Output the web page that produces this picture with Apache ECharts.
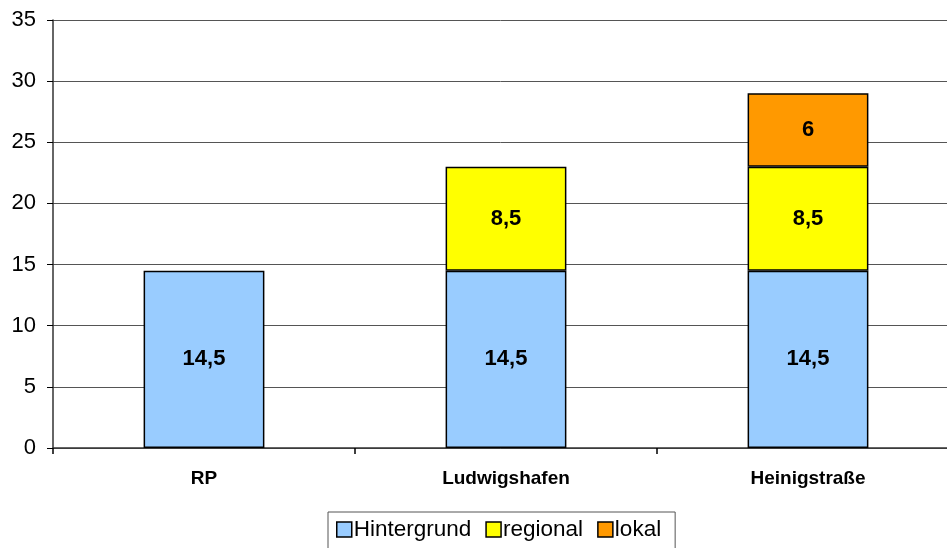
<!DOCTYPE html>
<html>
<head>
<meta charset="utf-8">
<script src="https://cdn.jsdelivr.net/npm/echarts@6/dist/echarts.min.js"></script>
<style>
	html, body { margin: 0; padding: 0; background: #fff; }
	#chart { width: 947px; height: 548px; }
</style>
</head>
<body>
<div id="chart"></div>
<script>
var categories = ['RP', 'Ludwigshafen', 'Heinigstraße'];
var hintergrund = [14.5, 14.5, 14.5];
var regional = [null, 8.5, 8.5];
var lokal = [null, null, 6];
var yTicks = [0, 5, 10, 15, 20, 25, 30, 35];

var myChart = echarts.init(document.getElementById('chart'));

// Beschriftung mit Komma als Dezimaltrenner
function labelFmt(p){
	return String(p.value).replace('.', ',');
}

function barSeries(name, data, color){
	return {
		name: name,
		type: 'bar',
		stack: 'total',
		data: data,
		barWidth: '40%',
		itemStyle: { color: color, borderColor: '#000', borderWidth: 1.5 },
		label: {
			show: true,
			position: 'inside',
			formatter: labelFmt,
			fontFamily: 'Liberation Sans, Arial, sans-serif',
			fontWeight: 'bold',
			fontSize: 22,
			color: '#000'
		},
		emphasis: { disabled: true },
		animation: false
	};
}

var option = {
	backgroundColor: '#fff',
	grid: { left: 53, top: 20, width: 906, height: 428, containLabel: false, outerBoundsMode: 'none' },
	legend: {
		top: 512,
		left: 328,
		itemWidth: 15,
		itemHeight: 15,
		itemGap: 14,
		padding: [6, 14, 8, 8],
		borderColor: '#555',
		borderWidth: 1,
		borderRadius: 0,
		textStyle: { fontFamily: 'Liberation Sans, Arial, sans-serif', fontSize: 22.5, color: '#000', padding: [0, 0, 0, -3] },
		icon: 'rect',
		itemStyle: { borderColor: '#000', borderWidth: 1.5 },
		data: ['Hintergrund', 'regional', 'lokal']
	},
	xAxis: {
		type: 'category',
		data: categories,
		axisLine: { lineStyle: { color: '#333', width: 1.5 } },
		axisTick: { show: true, length: 6, lineStyle: { color: '#000', width: 1.5 } },
		axisLabel: {
			margin: 21,
			fontFamily: 'Liberation Sans, Arial, sans-serif',
			fontWeight: 'bold',
			fontSize: 19,
			color: '#000'
		}
	},
	yAxis: {
		type: 'value',
		min: yTicks[0],
		max: yTicks[yTicks.length - 1],
		interval: 5,
		axisLine: { show: true, lineStyle: { color: '#333', width: 1.5 } },
		axisTick: { show: true, length: 6, lineStyle: { color: '#000' } },
		axisLabel: {
			margin: 17,
			fontFamily: 'Liberation Sans, Arial, sans-serif',
			fontSize: 22,
			color: '#000'
		},
		splitLine: { show: true, lineStyle: { color: '#555', width: 1 } }
	},
	series: [
		barSeries('Hintergrund', hintergrund, '#99ccff'),
		barSeries('regional', regional, '#ffff00'),
		barSeries('lokal', lokal, '#ff9900')
	]
};

myChart.setOption(option);
</script>
</body>
</html>
